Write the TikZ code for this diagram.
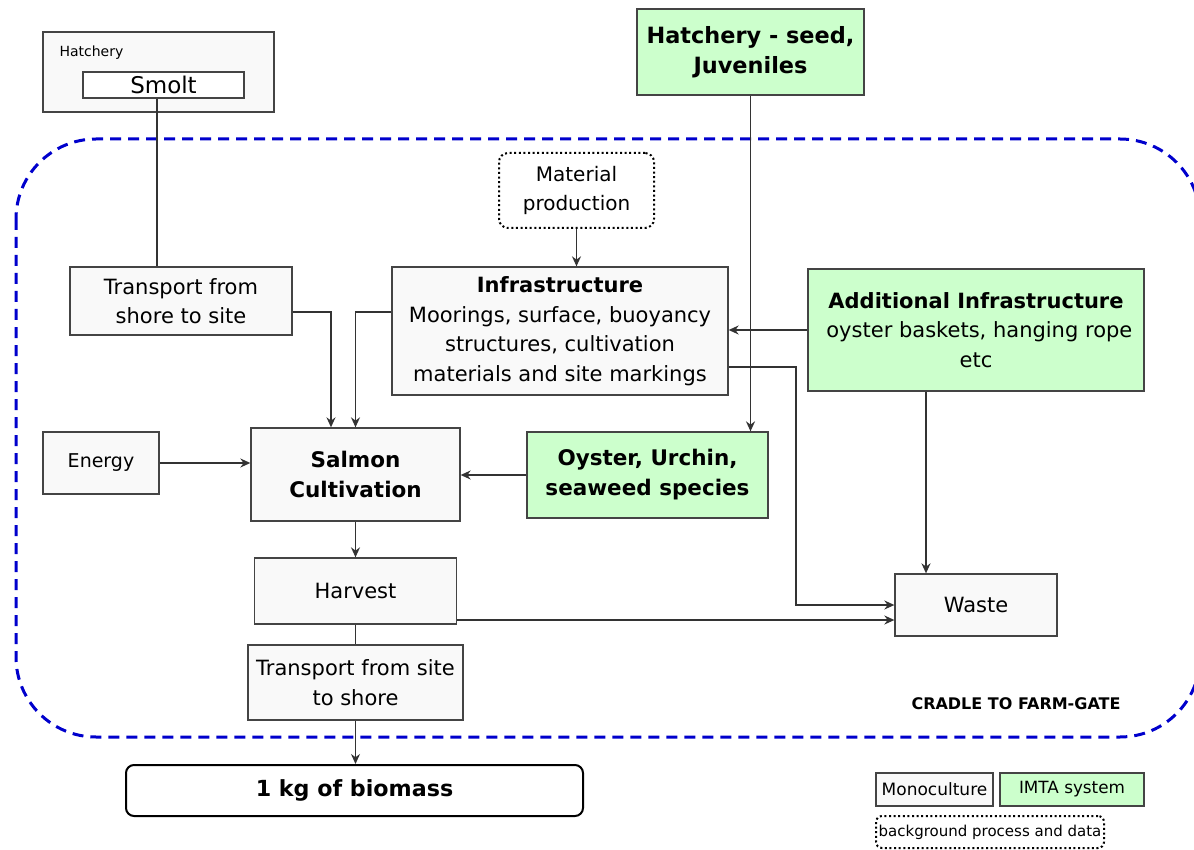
\documentclass[tikz,border=0pt]{standalone}
\usepackage{fontspec}
\setmainfont{DejaVu Sans}
\usetikzlibrary{arrows.meta}
\definecolor{boxfill}{HTML}{F9F9F9}
\definecolor{imtafill}{HTML}{CCFFCC}
\definecolor{boxline}{HTML}{444444}
\definecolor{wire}{HTML}{333333}
\definecolor{scope}{HTML}{0000CC}
\newcommand{\bodysize}{\fontsize{21}{29.5}\selectfont}
\tikzset{
  proc/.style={draw=boxline, fill=boxfill, line width=1.3pt, inner sep=0pt,
    align=center, font=\bodysize},
  imta/.style={proc, fill=imtafill},
  bgproc/.style={draw=black, fill=white, line width=2pt, dash pattern=on 2pt off 2.6pt,
    rounded corners=9pt, inner sep=0pt, align=center, font=\fontsize{20}{29}\selectfont},
  wirepath/.style={draw=wire, line width=1.4pt},
  flow/.style={wirepath, -{Stealth[length=10pt,width=9pt]}},
  sz/.style 2 args={minimum width=#1pt, minimum height=#2pt}
}
\begin{document}
\begin{tikzpicture}[x=1pt,y=-1pt]
\useasboundingbox (0,0) rectangle (1194,850);

% system boundary
\draw[scope, line width=3pt, dash pattern=on 11pt off 7pt, rounded corners=80pt]
  (16,139) rectangle (1200,737);
\node[font=\fontsize{16}{18}\selectfont\bfseries] (cradle) at (1016,704) {CRADLE TO FARM-GATE};

% hatchery supplying smolt
\node[proc, sz={231}{80}] (hatchbox) at (158.5,72) {};
\node[font=\fontsize{14}{16}\selectfont, anchor=west] (hatchlbl) at (56,53) {Hatchery};
\node[proc, fill=white, sz={161}{26}, font=\fontsize{23}{26}\selectfont] (smolt) at (163.5,85) {Smolt};

% IMTA inputs
\node[imta, sz={227}{86}, font=\fontsize{22.4}{30}\selectfont\bfseries] (seed) at (750.5,52)
  {Hatchery - seed,\\Juveniles};
\node[bgproc, sz={155}{75}] (matprod) at (576.5,190.5) {Material\\production};

\node[proc, sz={222}{68}] (tshore) at (181,301) {Transport from\\shore to site};
\node[proc, sz={336}{128}] (infra) at (560,331)
  {\textbf{Infrastructure}\\Moorings, surface, buoyancy\\structures, cultivation\\materials and site markings};
\node[imta, sz={336}{122}] (addinf) at (976,330)
  {\textbf{Additional Infrastructure}\\\ oyster baskets, hanging rope\\etc};

\node[proc, sz={116}{62}, font=\fontsize{19}{24}\selectfont] (energy) at (101,463) {Energy};
\node[proc, sz={209}{93}, font=\fontsize{21.5}{30}\selectfont\bfseries] (salmon) at (355.5,474.5)
  {Salmon\\Cultivation};
\node[imta, sz={241}{86}, font=\fontsize{21.5}{30}\selectfont\bfseries] (oyster) at (647.5,475)
  {Oyster, Urchin,\\seaweed species};

\node[proc, sz={202}{66}] (harvest) at (355.5,591) {Harvest};
\node[proc, sz={162}{62}] (waste) at (976,605) {Waste};
\node[proc, sz={215}{75}] (tsite) at (355.5,682.5) {Transport from site\\to shore};
\node[draw=black, fill=white, line width=2pt, rounded corners=8pt, sz={457}{51},
  font=\fontsize{22.2}{26}\selectfont\bfseries] (biomass) at (354.5,790.5) {1 kg of biomass};

% legend
\node[proc, sz={117}{33}, font=\fontsize{17}{20}\selectfont] (legmono) at (934.5,789.5) {Monoculture};
\node[imta, sz={144}{33}, font=\fontsize{16.8}{20}\selectfont] (legimta) at (1072,789.5) {IMTA system};
\node[bgproc, sz={228}{32}, rounded corners=6pt, font=\fontsize{15}{18}\selectfont] (legbg) at (990,832)
  {background process and data};

% connectors
\draw[wirepath] ([xshift=-6.5pt]smolt.south) -- ([xshift=-24pt]tshore.north);
\draw[flow] ([yshift=-11pt]tshore.east) -| ([xshift=-24.5pt]salmon.north);
\draw[flow] ([yshift=19pt]infra.west) -| (salmon.north);
\draw[flow] (matprod.south) -- (matprod.south |- infra.north);
\draw[flow] (addinf.west) -- (addinf.west -| infra.east);
\draw[flow] ([yshift=-36pt]infra.east) -| (796,605) -- (waste.west);
\draw[flow] ([xshift=-50pt]addinf.south) -- ([xshift=-50pt]waste.north);
\draw[flow] (seed.south) -- (seed.south |- oyster.north);
\draw[flow] (energy.east) -- (energy.east -| salmon.west);
\draw[flow] (oyster.west) -- (oyster.west -| salmon.east);
\draw[flow] (salmon.south) -- (harvest.north);
\draw[wirepath] (harvest.south) -- (tsite.north);
\draw[flow] (tsite.south) -- (tsite.south |- biomass.north);
\draw[flow] ([yshift=-29pt]harvest.east) -- ([yshift=-15pt]waste.west);
\end{tikzpicture}
\end{document}
